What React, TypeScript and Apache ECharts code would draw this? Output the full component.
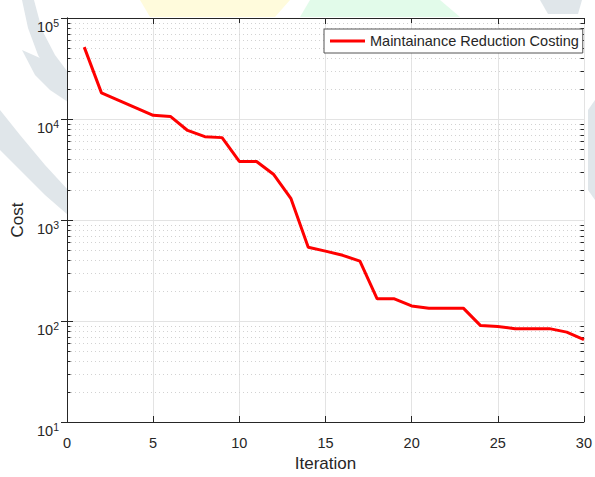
import React, { useEffect, useRef } from "react";
import * as echarts from "echarts";

const iterations = [1, 2, 3, 4, 5, 6, 7, 8, 9, 10, 11, 12, 13, 14, 15, 16, 17, 18, 19, 20, 21, 22, 23, 24, 25, 26, 27, 28, 29, 30];
const cost = [51500, 18150, 15300, 12900, 10870, 10600, 7700, 6680, 6540, 3800, 3800, 2820, 1625, 538, 492, 447, 391, 166, 166, 141, 134, 134, 134, 90, 88, 84, 84, 84, 77.6, 65.5];
const seriesName = "Maintainance Reduction Costing";
const minorValues = [
  20, 30, 40, 50, 60, 70, 80, 90,
  200, 300, 400, 500, 600, 700, 800, 900,
  2000, 3000, 4000, 5000, 6000, 7000, 8000, 9000,
  20000, 30000, 40000, 50000, 60000, 70000, 80000, 90000,
];

const FONT = "'Liberation Sans', Arial, Helvetica, sans-serif";
const AX = "#262626";

export default function App() {
  const ref = useRef<HTMLDivElement>(null);
  useEffect(() => {
    if (!ref.current) return;
    const chart = echarts.init(ref.current, null, { renderer: "svg" });
    const wmGray = "#e0e6ea";
    const option: any = {
      animation: false,
      backgroundColor: "#ffffff",
      textStyle: { fontFamily: FONT },
      graphic: [
        { type: "polygon", z: -10, shape: { points: [[22, 0], [34, 0], [42, 30], [55, 55], [70, 75], [70, 95], [52, 80], [38, 55], [28, 28]] }, style: { fill: wmGray } },
        { type: "polygon", z: -10, shape: { points: [[22, 50], [40, 58], [58, 72], [68, 90], [68, 102], [50, 90], [35, 75]] }, style: { fill: wmGray } },
        { type: "polygon", z: -10, shape: { points: [[0, 110], [20, 135], [45, 165], [68, 190], [68, 215], [45, 195], [20, 170], [0, 150]] }, style: { fill: wmGray } },
        { type: "polygon", z: -10, shape: { points: [[140, 0], [290, 0], [275, 17], [150, 17]] }, style: { fill: "#fffbdc" } },
        { type: "polygon", z: -10, shape: { points: [[310, 0], [440, 0], [460, 17], [300, 17]] }, style: { fill: "#e2fbea" } },
        { type: "polygon", z: -10, shape: { points: [[540, 0], [582, 0], [578, 14], [548, 14]] }, style: { fill: wmGray } },
        { type: "polygon", z: -10, shape: { points: [[588, 110], [595, 100], [595, 200], [588, 190]] }, style: { fill: wmGray } },
      ],
      grid: { left: 67, top: 18, right: 8, bottom: 47, show: true, backgroundColor: "#ffffff", borderWidth: 0 },
      legend: {
        data: [{ name: seriesName, icon: "rect" }],
        left: 324,
        top: 29,
        padding: [4, 4, 4, 6],
        itemWidth: 35,
        itemHeight: 3,
        backgroundColor: "#ffffff",
        borderColor: "#555555",
        borderWidth: 1,
        textStyle: { fontSize: 14.5, color: AX, fontFamily: FONT, lineHeight: 16 },
      },
      xAxis: [
        {
          type: "value",
          position: "bottom",
          min: 0,
          max: 30,
          interval: 5,
          name: "Iteration",
          nameLocation: "middle",
          nameGap: 33,
          nameTextStyle: { fontSize: 17, color: AX, fontFamily: FONT },
          axisLine: { show: true, lineStyle: { color: AX, width: 1 } },
          axisTick: { show: true, inside: true, length: 6, lineStyle: { color: AX } },
          axisLabel: { color: AX, fontSize: 14.5, margin: 13, fontFamily: FONT },
          splitLine: { show: true, lineStyle: { color: "#e3e3e3", width: 1 } },
        },
        {
          type: "value",
          position: "top",
          min: 0,
          max: 30,
          interval: 5,
          axisLine: { show: true, lineStyle: { color: AX, width: 1 } },
          axisTick: { show: true, inside: true, length: 6, lineStyle: { color: AX } },
          axisLabel: { show: false },
          splitLine: { show: false },
        },
      ],
      yAxis: [
        {
          type: "log",
          logBase: 10,
          position: "left",
          min: 10,
          max: 100000,
          name: "Cost",
          nameLocation: "middle",
          nameGap: 41,
          nameTextStyle: { fontSize: 17, color: AX, fontFamily: FONT },
          axisLine: { show: true, lineStyle: { color: AX, width: 1 } },
          axisTick: { show: true, inside: true, length: 6, lineStyle: { color: AX } },
          axisLabel: {
            margin: 8,
            padding: [18, 0, 0, 0],
            formatter: (v: number) => `{b|10}{s|${Math.round(Math.log10(v))}}`,
            rich: {
              b: { fontSize: 14.5, color: AX, fontFamily: FONT },
              s: { fontSize: 10.5, color: AX, fontFamily: FONT, padding: [0, 0, 8.5, 0] },
            },
          },
          splitLine: { show: true, lineStyle: { color: "#e3e3e3", width: 1 } },
        },
        {
          type: "log",
          logBase: 10,
          position: "right",
          min: 10,
          max: 100000,
          axisLine: { show: true, lineStyle: { color: AX, width: 1 } },
          axisTick: { show: true, inside: true, length: 6, lineStyle: { color: AX } },
          axisLabel: { show: false },
          splitLine: { show: false },
        },
      ],
      series: [
        {
          type: "custom",
          name: "minor",
          coordinateSystem: "cartesian2d",
          xAxisIndex: 0,
          yAxisIndex: 0,
          silent: true,
          z: 1,
          data: minorValues.map((v) => [0, v]),
          renderItem: (params: any, api: any) => {
            const y = Math.round(api.coord([0, api.value(1)])[1]) + 0.5;
            const cs = params.coordSys;
            return {
              type: "group",
              children: [
                { type: "line", shape: { x1: cs.x, y1: y, x2: cs.x + cs.width, y2: y }, style: { stroke: "#d2d2d2", lineWidth: 1, lineDash: [1, 3] } },
                { type: "line", shape: { x1: cs.x, y1: y, x2: cs.x + 3.5, y2: y }, style: { stroke: AX, lineWidth: 1 } },
                { type: "line", shape: { x1: cs.x + cs.width - 3.5, y1: y, x2: cs.x + cs.width, y2: y }, style: { stroke: AX, lineWidth: 1 } },
              ],
            };
          },
        },
        {
          type: "line",
          name: seriesName,
          xAxisIndex: 0,
          yAxisIndex: 0,
          z: 5,
          data: iterations.map((x, i) => [x, cost[i]]),
          symbol: "none",
          showSymbol: false,
          lineStyle: { color: "#ff0000", width: 3 },
          itemStyle: { color: "#ff0000" },
        },
      ],
    };
    chart.setOption(option);
    return () => chart.dispose();
  }, []);
  return <div ref={ref} style={{ position: "fixed", left: 0, top: 0, width: 595, height: 477 }} />;
}
